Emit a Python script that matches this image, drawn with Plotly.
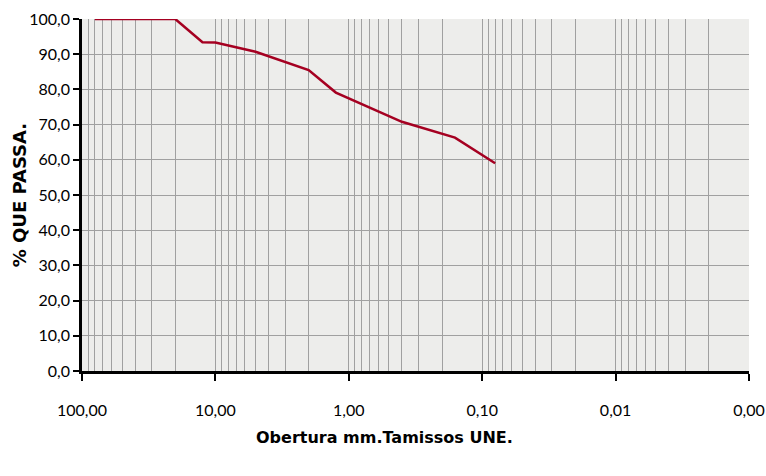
import numpy as np
import plotly.graph_objects as go

# sieve opening (mm) and % passing
obertura = [80, 20, 12.5, 10, 5, 2, 1.25, 0.4, 0.16, 0.08]
passa = [100.0, 100.0, 93.4, 93.3, 90.7, 85.5, 79.1, 70.8, 66.3, 59.0]

x_decades = [100, 10, 1, 0.1, 0.01, 0.001]
x_labels = ["100,00", "10,00", "1,00", "0,10", "0,01", "0,00"]
x_minor = [m * d for d in [10, 1, 0.1, 0.01, 0.001] for m in range(2, 10)]
y_ticks = list(range(0, 101, 10))

fig = go.Figure()
fig.add_trace(
    go.Scatter(
        x=obertura,
        y=passa,
        mode="lines",
        line=dict(color="#A50021", width=2.5),
        showlegend=False,
    )
)

axis_font = dict(family="Lato, sans-serif", size=16, color="#000000")
title_font = dict(family="DejaVu Sans, sans-serif", size=16, color="#000000")

fig.update_layout(
    width=766,
    height=476,
    separators=",.",
    paper_bgcolor="#FFFFFF",
    plot_bgcolor="#EDEDEB",
    margin=dict(l=82, r=17, t=19, b=105),
    font=axis_font,
    annotations=[
        dict(
            text="<b>Obertura mm.Tamissos UNE.</b>",
            xref="paper", yref="paper",
            x=0.454, y=-0.188,
            xanchor="center", yanchor="middle",
            showarrow=False,
            font=title_font,
        ),
        dict(
            text="<b>% QUE PASSA.</b>",
            xref="paper", yref="paper",
            x=-0.094, y=0.5,
            xanchor="center", yanchor="middle",
            textangle=-90,
            showarrow=False,
            font=dict(family="DejaVu Sans, sans-serif", size=18, color="#000000"),
        ),
    ],
)

fig.update_xaxes(
    type="log",
    range=[np.log10(100), np.log10(0.001)],
    tickvals=x_decades,
    ticktext=x_labels,
    ticks="outside",
    ticklen=7,
    tickwidth=2,
    tickcolor="#000000",
    ticklabelstandoff=16,
    ticklabeloverflow="allow",
    showline=True,
    linecolor="#000000",
    linewidth=2.5,
    showgrid=True,
    gridcolor="#A0A0A0",
    gridwidth=1,
    zeroline=False,
    automargin=False,
    tickfont=axis_font,
    minor=dict(tickvals=x_minor, showgrid=True, gridcolor="#A0A0A0", gridwidth=1, ticks=""),
)
fig.update_yaxes(
    range=[0, 100],
    tickvals=y_ticks,
    tickformat=".1f",
    ticks="outside",
    ticklen=6,
    tickwidth=2,
    tickcolor="#000000",
    showline=True,
    linecolor="#000000",
    linewidth=2.5,
    showgrid=True,
    gridcolor="#A0A0A0",
    gridwidth=1,
    zeroline=False,
    automargin=False,
    tickfont=axis_font,
)

# drop the default page margin so the 766x476 figure fills the window
fig.write_html(
    "out.html",
    config={"displayModeBar": False},
    post_script="document.body.style.margin='0';",
)
